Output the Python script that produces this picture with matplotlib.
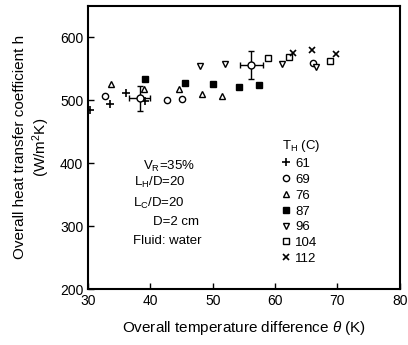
import numpy as np
import matplotlib.pyplot as plt

plt.rcParams['font.family'] = ['Liberation Sans', 'DejaVu Sans']
plt.rcParams['mathtext.fontset'] = 'custom'
plt.rcParams['mathtext.rm'] = 'Liberation Sans'
plt.rcParams['mathtext.it'] = 'Liberation Sans:italic'

# data, one series per hot temperature T_H
th_labels = ['61', '69', '76', '87', '96', '104', '112']

x61 = [30.3, 33.5, 36.0, 39.1]
y61 = [485, 494, 511, 498]
x69 = [32.7, 42.6, 45.0, 66.1]
y69 = [507, 500, 501, 559]
x76 = [33.7, 39.0, 44.5, 48.3, 51.4]
y76 = [525, 518, 518, 509, 506]
x87 = [39.1, 45.5, 50.1, 54.2, 57.4]
y87 = [534, 527, 525, 520, 524]
x96 = [47.9, 52.0, 61.1, 66.5]
y96 = [554, 557, 557, 552]
x104 = [58.9, 62.2, 68.8]
y104 = [566, 569, 562]
x112 = [62.8, 65.9, 69.8]
y112 = [575, 579, 573]

# representative error bars
err_x = [38.3, 56.2]
err_y = [503, 556]
err_dx = [1.7, 1.9]
err_dy = [20, 22]

fig = plt.figure(figsize=(4.08, 3.45), dpi=100)
ax = fig.add_axes([0.216, 0.162, 0.764, 0.822])

ms = 4.5
h1, = ax.plot(x61, y61, '+', color='k', ms=ms + 1, mew=1.2, ls='none')
h2, = ax.plot(x69, y69, 'o', mfc='white', mec='k', ms=ms, mew=1.0, ls='none')
h3, = ax.plot(x76, y76, '^', mfc='white', mec='k', ms=ms, mew=1.0, ls='none')
h4, = ax.plot(x87, y87, 's', color='k', ms=ms, ls='none')
h5, = ax.plot(x96, y96, 'v', mfc='white', mec='k', ms=ms, mew=1.0, ls='none')
h6, = ax.plot(x104, y104, 's', mfc='white', mec='k', ms=ms, mew=1.0, ls='none')
h7, = ax.plot(x112, y112, 'x', color='k', ms=ms - 0.5, mew=1.2, ls='none')

ax.errorbar(err_x, err_y, xerr=err_dx, yerr=err_dy, fmt='o', mfc='white',
            mec='k', ecolor='k', ms=5, elinewidth=1.0, capsize=2, capthick=1.0)

ax.set_xlim(30, 80)
ax.set_ylim(200, 650)
ax.set_xticks(np.arange(30, 81, 10))
ax.set_yticks(np.arange(200, 601, 100))
ax.tick_params(direction='in', length=4, width=1.0, labelsize=10)
for s in ax.spines.values():
    s.set_linewidth(1.5)

ax.set_xlabel(r'Overall temperature difference $\it{\theta}$ (K)', fontsize=11, labelpad=8)
ax.set_ylabel('Overall heat transfer coefficient h\n(W/m$^2$K)', fontsize=11, labelpad=6)

fs = 9.5
ax.text(38.8, 395, r'V$_\mathrm{R}$=35%', fontsize=fs, va='center')
ax.text(37.4, 369, r'L$_\mathrm{H}$/D=20', fontsize=fs, va='center')
ax.text(37.2, 336, r'L$_\mathrm{C}$/D=20', fontsize=fs, va='center')
ax.text(40.4, 306, 'D=2 cm', fontsize=fs, va='center')
ax.text(37.2, 277, 'Fluid: water', fontsize=fs, va='center')

leg = ax.legend([h1, h2, h3, h4, h5, h6, h7], th_labels,
                title=r'T$_\mathrm{H}$ (C)', frameon=False, fontsize=fs,
                title_fontsize=fs, loc='upper left', bbox_to_anchor=(0.60, 0.555),
                handlelength=0.6, handletextpad=0.4, labelspacing=0.27,
                borderpad=0, alignment='left')

fig.savefig('out.png', dpi=100)
